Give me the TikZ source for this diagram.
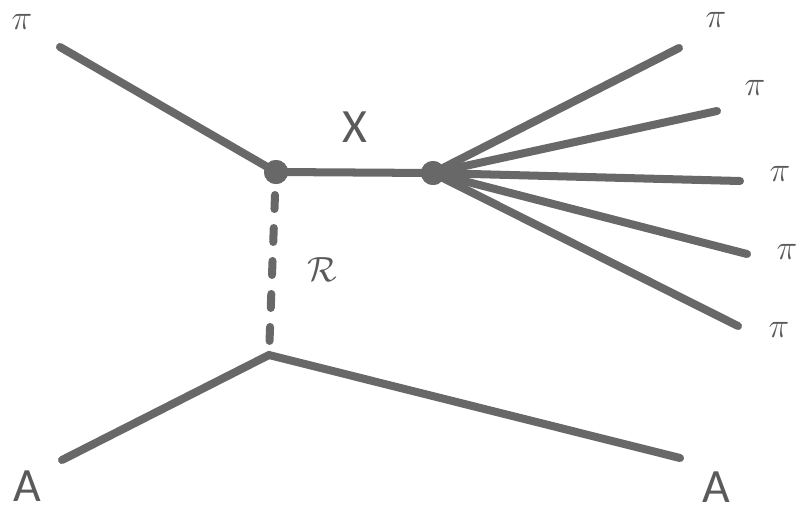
\documentclass[tikz,border=0pt]{standalone}
\usepackage{fontspec}
\setmainfont{Carlito}
\definecolor{linegray}{RGB}{104,104,104}
\definecolor{textgray}{RGB}{90,90,90}
\tikzset{
  prop/.style={draw=linegray, line width=5.7pt, line cap=round},
  ghost/.style={draw=linegray, line width=5.7pt, line cap=round, dash pattern=on 0.35cm off 0.475cm},
  vtx/.style={circle, fill=linegray, inner sep=0pt, minimum size=0.6cm},
  lab/.style={text=textgray, inner sep=0pt, font=\fontsize{34}{40}\selectfont},
  mlab/.style={text=textgray, inner sep=0pt, font=\fontsize{33}{38}\selectfont}
}
\begin{document}
\begin{tikzpicture}[x=0.025cm, y=-0.025cm]
\useasboundingbox (0,0) rectangle (800,513);
% vertices
\node[vtx] (v1) at (276,172) {};
\node[vtx] (v2) at (433,173) {};
\coordinate (v3) at (269,355);
% external ends
\coordinate (pin) at (60,47);
\coordinate (ain) at (62,460);
\coordinate (aout) at (680,458);
\coordinate (p1) at (679,48);
\coordinate (p2) at (717,111);
\coordinate (p3) at (740,181);
\coordinate (p4) at (747,254);
\coordinate (p5) at (738,326);
\coordinate (gtop) at (275,195);
% lines
\draw[prop] (pin) -- (v1.center);
\draw[prop] (v1.center) -- (v2.center);
\draw[ghost] (gtop) -- (v3);
\draw[prop] (ain) -- (v3) -- (aout);
\foreach \p in {p1,p2,p3,p4,p5} \draw[prop] (v2.center) -- (\p);
\node[vtx] at (v1) {};
\node[vtx] at (v2) {};
% labels
\node[mlab] (lpin) at (22,22) {$\pi$};
\node[mlab] (lp1) at (716,20) {$\pi$};
\node[mlab] (lp2) at (755,88) {$\pi$};
\node[mlab] (lp3) at (780,174) {$\pi$};
\node[mlab] (lp4) at (787,252) {$\pi$};
\node[mlab] (lp5) at (779,330) {$\pi$};
\node[lab] (lx) at (355,127) {X};
\node[mlab] (lr) at (322,270) {$\mathcal{R}$};
\node[lab, anchor=base] (la1) at (27,501) {A};
\node[lab, anchor=base] (la2) at (716,502) {A};
\end{tikzpicture}
\end{document}
